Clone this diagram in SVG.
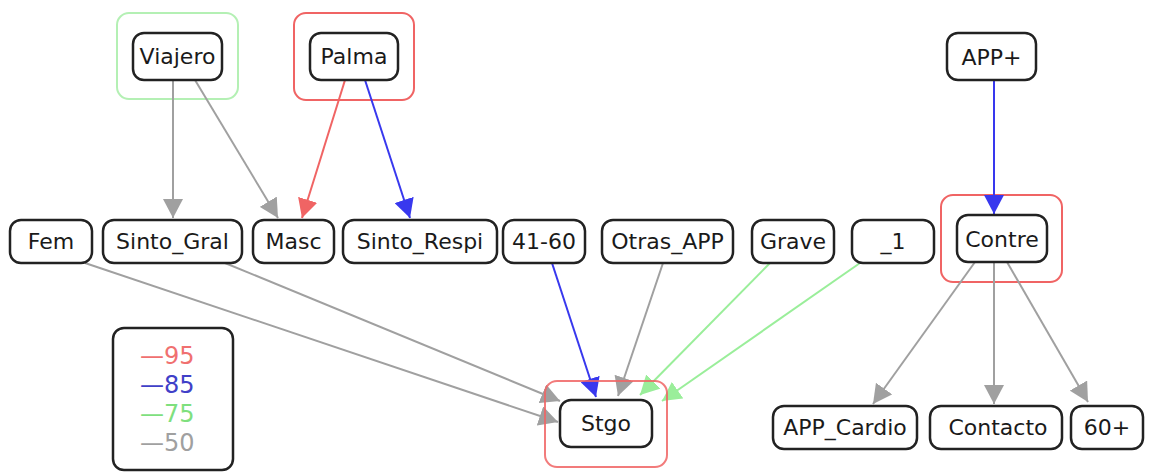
<svg xmlns="http://www.w3.org/2000/svg" width="1149" height="472" viewBox="0 0 1149 472">
<style>
.node rect{fill:#fff;stroke:#222;stroke-width:2.5}
.node text{font-family:"DejaVu Sans",Verdana,sans-serif;font-size:22px;fill:#1a1a1a;text-anchor:middle}
.cl{fill:none;stroke-width:2}
.e{fill:none;stroke-width:2}
.gray{stroke:#a0a0a0}
.red{stroke:#f06464}
.blue{stroke:#3838ee}
.green{stroke:#9aee9a}
.leg{font-family:"DejaVu Sans",Verdana,sans-serif;font-size:24px}
</style>
<defs>
<marker id="ag" markerUnits="userSpaceOnUse" markerWidth="20" markerHeight="20" refX="19" refY="10" orient="auto"><path d="M0,0L19,10L0,20Z" fill="#a0a0a0"/></marker>
<marker id="ar" markerUnits="userSpaceOnUse" markerWidth="20" markerHeight="20" refX="19" refY="10" orient="auto"><path d="M0,0L19,10L0,20Z" fill="#f06464"/></marker>
<marker id="ab" markerUnits="userSpaceOnUse" markerWidth="20" markerHeight="20" refX="19" refY="10" orient="auto"><path d="M0,0L19,10L0,20Z" fill="#3838ee"/></marker>
<marker id="agr" markerUnits="userSpaceOnUse" markerWidth="20" markerHeight="20" refX="19" refY="10" orient="auto"><path d="M0,0L19,10L0,20Z" fill="#9aee9a"/></marker>
</defs>
<rect width="1149" height="472" fill="#fff"/>
<g id="clusters">
<rect class="cl" x="117" y="13" width="121" height="86" rx="12" stroke="#b4f0b4"/>
<rect class="cl" x="294" y="13" width="120" height="87" rx="12" stroke="#f06464"/>
<rect class="cl" x="941" y="195" width="121" height="87" rx="12" stroke="#f06464"/>
</g>
<g id="connectors">
<line class="e gray" x1="173" y1="80" x2="173" y2="218" marker-end="url(#ag)"/>
<line class="e gray" x1="195" y1="80" x2="278" y2="218" marker-end="url(#ag)"/>
<line class="e red" x1="345" y1="80" x2="302" y2="218" marker-end="url(#ar)"/>
<line class="e blue" x1="365" y1="80" x2="410" y2="218" marker-end="url(#ab)"/>
<line class="e blue" x1="994" y1="80" x2="994" y2="214" marker-end="url(#ab)"/>
<line class="e gray" x1="85" y1="263" x2="558" y2="422" marker-end="url(#ag)"/>
<line class="e gray" x1="225" y1="263" x2="560" y2="401" marker-end="url(#ag)"/>
<line class="e blue" x1="552" y1="263" x2="596" y2="397" marker-end="url(#ab)"/>
<line class="e gray" x1="663" y1="263" x2="618" y2="396" marker-end="url(#ag)"/>
<line class="e green" x1="770" y1="263" x2="640" y2="395" marker-end="url(#agr)"/>
<line class="e green" x1="860" y1="263" x2="662" y2="401" marker-end="url(#agr)"/>
<line class="e gray" x1="975" y1="262" x2="873" y2="404" marker-end="url(#ag)"/>
<line class="e gray" x1="994" y1="262" x2="994" y2="404" marker-end="url(#ag)"/>
<line class="e gray" x1="1007" y1="262" x2="1088" y2="402" marker-end="url(#ag)"/>
</g>
<rect class="cl" x="545" y="381" width="122" height="86" rx="12" stroke="#f06464" stroke-opacity="0.85"/>
<g id="Viajero" class="node"><rect x="133" y="33" width="89" height="47" rx="11"/><text x="177.5" y="64">Viajero</text></g>
<g id="Palma" class="node"><rect x="310" y="33" width="88" height="47" rx="11"/><text x="354" y="64">Palma</text></g>
<g id="APPplus" class="node"><rect x="947" y="33" width="89" height="47" rx="11"/><text x="991.5" y="65">APP+</text></g>
<g id="Fem" class="node"><rect x="10" y="220" width="82" height="43" rx="11"/><text x="51" y="249">Fem</text></g>
<g id="Sinto_Gral" class="node"><rect x="103" y="220" width="139" height="43" rx="11"/><text x="172.5" y="249">Sinto_Gral</text></g>
<g id="Masc" class="node"><rect x="253" y="220" width="81" height="43" rx="11"/><text x="293.5" y="249">Masc</text></g>
<g id="Sinto_Respi" class="node"><rect x="343" y="220" width="154" height="43" rx="11"/><text x="420" y="249">Sinto_Respi</text></g>
<g id="n41_60" class="node"><rect x="503" y="220" width="82" height="43" rx="11"/><text x="544" y="249">41-60</text></g>
<g id="Otras_APP" class="node"><rect x="602" y="220" width="131" height="43" rx="11"/><text x="667.5" y="249">Otras_APP</text></g>
<g id="Grave" class="node"><rect x="752" y="220" width="82" height="43" rx="11"/><text x="793" y="249">Grave</text></g>
<g id="n_1" class="node"><rect x="852" y="220" width="82" height="43" rx="11"/><text x="893" y="249">_1</text></g>
<g id="Contre" class="node"><rect x="957" y="215" width="90" height="47" rx="11"/><text x="1002" y="247">Contre</text></g>
<g id="Stgo" class="node"><rect x="560" y="400" width="92" height="47" rx="11"/><text x="606" y="431">Stgo</text></g>
<g id="APP_Cardio" class="node"><rect x="773" y="406" width="144" height="43" rx="11"/><text x="845" y="435">APP_Cardio</text></g>
<g id="Contacto" class="node"><rect x="930" y="406" width="132" height="43" rx="11"/><text x="998" y="435">Contacto</text></g>
<g id="n60plus" class="node"><rect x="1071" y="406" width="72" height="43" rx="11"/><text x="1107" y="435">60+</text></g>
<g id="legend">
<rect x="113" y="328" width="120" height="142" rx="11" fill="#fff" stroke="#222" stroke-width="2.5"/>
<text class="leg" x="140" y="364" fill="#f07070">—95</text>
<text class="leg" x="140" y="393" fill="#4040c8">—85</text>
<text class="leg" x="140" y="422" fill="#7ee07e">—75</text>
<text class="leg" x="140" y="451" fill="#a0a0a0">—50</text>
</g>
</svg>
